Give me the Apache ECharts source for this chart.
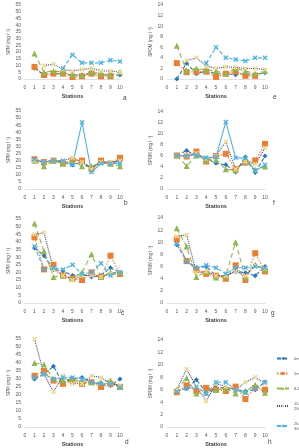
<!DOCTYPE html>
<html>
<head>
<meta charset="utf-8">
<script src="https://cdn.jsdelivr.net/npm/echarts@6/dist/echarts.min.js"></script>
<style>
  html, body { margin: 0; padding: 0; background: #fff; }
  #main { width: 299px; height: 448px; }
</style>
</head>
<body>
<div id="main"></div>
<script>
// stations along the x axis
const stations = [1, 2, 3, 4, 5, 6, 7, 8, 9, 10];
const depths = ['0m', '5m', '8-10', '15-\n20m', '26-\n30m'];
const spmTicks = [0, 5, 10, 15, 20, 25, 30, 35, 40, 45, 50, 55];
const spomTicks = [0, 2, 4, 6, 8, 10, 12, 14];

// SPM panels (one row per depth)
const panelA = [
  [8, 3, 4, 4, 3, 3, 4, 3, 3, 3],
  [9, 3, 4, 4, 1.5, 2, 4, 2, 2, null],
  [19, 5, 6, 5, 3, 3, 5, 4, 3, 5],
  [null, 10, 11, 7, 6, 7, 8, 6, 6, 5],
  [null, null, null, 8, 18, 12, 12, 12, 14, 13]
];
const panelB = [
  [20, 19, 20, 19, 17, 19, 15, 19, 18, 20],
  [21, 19, 20, 18, 20, 20, 14, 20, 18, 22],
  [20, 16, 20, 18, 20, 16, 16, 19, 18, 16],
  [20, 19, 20, 20, 22, 19, 14, 19, 19, 20],
  [21, 19, 20, 20, 17, 47, 12, 18, 18, 18]
];
const panelC = [
  [36, 31, 22, 21, 18, 19, 17, 18, 23, 20],
  [43, 22, 25, 18, 16, 15, 20, 17, 31, 19],
  [52, 34, 17, 18, 16, 20, 32, 17, 20, 20],
  [45, 46, 22, 18, 15, 18, 18, 17, 19, 20],
  [37, 22, 23, 22, 25, 19, 20, 26, 18, 20]
];
const panelD = [
  [30, 33, 38, 27, 30, 31, 28, 27, 26, 30],
  [32, 35, 29, 27, 29, 27, 28, 25, 27, 25],
  [40, 39, 30, 29, 30, 28, 28, 28, 29, 25],
  [55, 33, 22, 32, 27, 27, 32, 31, 27, 26],
  [31, 33, 30, 31, 31, 30, 28, 27, 27, 25]
];
// SPOM panels
const panelE = [
  [0, 3, 1, 1.5, 1, 1, 0.8, 1, 0.8, 1.2],
  [3, 1.3, 1.4, 1.4, 0.4, 1, 1.4, 0.6, 0.6, null],
  [6.3, 1.6, 2, 1.7, 1.5, 1, 2, 1.5, 1, 1.5],
  [null, 3.5, 4, 2.5, 2, 2.3, 2.2, 2, 2, 1.8],
  [null, null, null, 3, 6, 4, 3.7, 3.4, 4, 4]
];
const panelF = [
  [6.1, 7, 6, 5.6, 4.7, 4.4, 3.1, 5.8, 3, 6],
  [6.1, 5.9, 6.8, 5, 6, 6.4, 3.6, 4.8, 5.2, 8.2],
  [6.1, 4.2, 6.1, 5.3, 5.3, 3.6, 3.4, 5, 3.5, 4.1],
  [6.1, 6, 6.5, 5.5, 6, 8.6, 3.6, 5, 4.5, 7.5],
  [6.1, 6, 6.2, 5.7, 5.8, 12.2, 5.7, 5.6, 3.3, 4.4]
];
const panelG = [
  [9.6, 7, 5.8, 6, 4.5, 4.5, 5.2, 5, 4.5, 6],
  [10.5, 6.9, 5.5, 4.8, 4.5, 4, 6.2, 3.8, 8.2, 5.2],
  [12.3, 9.3, 4.3, 5.2, 4.2, 4.5, 10, 4.2, 6.3, 5.5],
  [11, 11.2, 5, 5.2, 4.5, 4.5, 5.2, 4.5, 6.2, 5.7],
  [9.7, 6.8, 5.8, 6.2, 5.8, 4.8, 5.8, 5.8, 6, 5.8]
];
const panelH = [
  [5.8, 6.2, 7.6, 5.6, 6.3, 6.3, 6, 5.8, 6, 7.2],
  [5.6, 6.7, 5.8, 6.3, 6, 5.8, 6.5, 4.5, 6.3, 6],
  [6, 7.9, 5.4, 5.5, 6, 6.2, 5.4, 5.7, 6.8, 5.5],
  [6, 9.3, 6.5, 4.2, 7, 6.5, 6, 7.2, 8, 7],
  [5.7, 6.2, 6.4, 5.4, 7.2, 7.2, 6, 5.5, 6.2, 7.2]
];

var xMark = 'path://M2,0L5,3L8,0L10,2L7,5L10,8L8,10L5,7L2,10L0,8L3,5L0,2Z';
var styles = [
  { line: '#2E75B6', mark: '#2E75B6', type: [4, 2], symbol: 'diamond', size: 5 },
  { line: '#ED7D31', mark: '#ED7D31', type: [1.5, 1.5], symbol: 'rect', size: 6 },
  { line: '#8DB94F', mark: '#8DB94F', type: [5, 3], symbol: 'triangle', size: 6 },
  { line: '#3F3F8F', mark: '#EFD98A', type: [1, 1], symbol: xMark, size: 5 },
  { line: '#4DB3E6', mark: '#4DB3E6', type: [4, 2], symbol: xMark, size: 5 }
];

// panel layout: [data, isSpm, left, top, height, letter, letterX, letterY, solidLast]
var panels = [
  [panelA, true, 25, 5, 74, 'a', 123, 95, false],
  [panelE, false, 167, 5, 74, 'e', 273, 94, false],
  [panelB, true, 25, 111, 78, 'b', 124, 200, true],
  [panelF, false, 167, 112, 77, 'f', 273, 200, true],
  [panelC, true, 25, 219, 84, 'c', 121, 310, false],
  [panelG, false, 167, 218, 85, 'g', 271, 310, false],
  [panelD, true, 25, 339, 90, 'd', 125, 439, false],
  [panelH, false, 167, 340, 89, 'h', 268, 439, false]
];

var grids = [], xAxes = [], yAxes = [], series = [], graphics = [];
var lab = { color: '#595959', fontSize: 5, fontFamily: 'Liberation Sans' };

panels.forEach(function (p, i) {
  var ticks = p[1] ? spmTicks : spomTicks;
  grids.push({ left: p[2], top: p[3], width: p[1] ? 95 : 98, height: p[4] });
  xAxes.push({
    gridIndex: i, type: 'value', min: 0, max: 10, interval: 1,
    name: 'Stations', nameLocation: 'middle', nameGap: 14,
    nameTextStyle: { fontSize: 5.5, fontWeight: 'bold', color: '#404040', fontFamily: 'Liberation Sans' },
    axisLine: { lineStyle: { color: '#D9D9D9', width: 0.8 } },
    axisTick: { show: false },
    axisLabel: Object.assign({ margin: 6 }, lab),
    splitLine: { show: false }
  });
  yAxes.push({
    gridIndex: i, type: 'value', min: 0, max: ticks[ticks.length - 1],
    interval: ticks[1] - ticks[0],
    name: p[1] ? 'SPM (mg l⁻¹)' : 'SPOM (mg l⁻¹)',
    nameLocation: 'middle', nameGap: p[1] ? 14 : 11,
    nameTextStyle: { fontSize: 4.5, color: '#595959', fontFamily: 'Liberation Sans' },
    axisLine: { show: false }, axisTick: { show: false },
    axisLabel: Object.assign({ margin: 4 }, lab),
    splitLine: { show: false }
  });
  p[0].forEach(function (vals, k) {
    var st = styles[k];
    series.push({
      name: depths[k], type: 'line', xAxisIndex: i, yAxisIndex: i,
      data: stations.map(function (s, j) { return [s, vals[j]]; }),
      symbol: st.symbol, symbolSize: st.size,
      lineStyle: { color: st.line, width: 1.1, type: (k === 4 && p[8]) ? 'solid' : st.type },
      itemStyle: { color: st.mark },
      emphasis: { disabled: true },
      animation: false
    });
  });
  graphics.push({
    type: 'text', left: p[6], top: p[7],
    style: { text: p[5], fontSize: 6.5, fill: '#404040', fontFamily: 'Liberation Sans' }
  });
});

var chart = echarts.init(document.getElementById('main'));
chart.setOption({
  animation: false,
  grid: grids,
  xAxis: xAxes,
  yAxis: yAxes,
  series: series,
  graphic: graphics,
  legend: {
    data: depths, orient: 'vertical', left: 271, top: 351,
    itemWidth: 12, itemHeight: 4, itemGap: 10,
    textStyle: { fontSize: 4, color: '#595959', fontFamily: 'Liberation Sans', lineHeight: 5 }
  }
});
</script>
</body>
</html>
